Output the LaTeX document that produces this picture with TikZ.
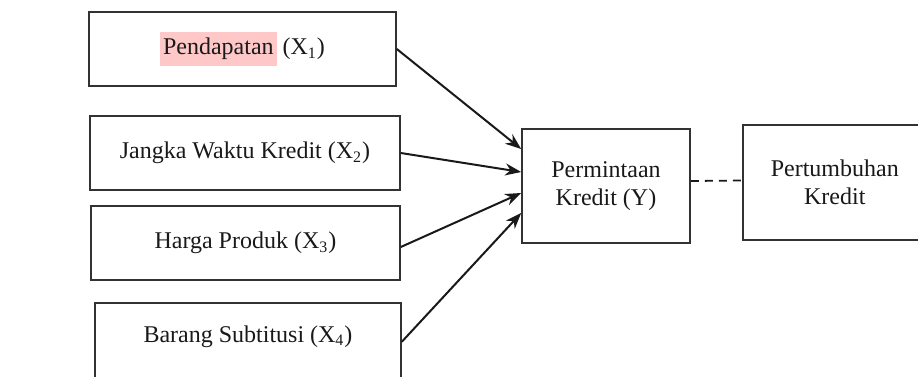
\documentclass[tikz,border=0pt]{standalone}
\usepackage{fontspec}
\setmainfont{Liberation Serif}
\usepackage{tikz}
\usetikzlibrary{arrows.meta}
\usetikzlibrary{positioning}
\definecolor{hlpink}{RGB}{255,200,200}
\definecolor{boxline}{RGB}{50,50,50}
\tikzstyle{var}=[draw=boxline, line width=0.8pt, align=center, inner sep=2pt,
                 font=\fontsize{12}{14}\selectfont, text=black!90]
\tikzstyle{infl}=[-{Stealth[length=8pt,width=6pt]}, line width=1pt, black!90]
\tikzstyle{rel}=[dashed, dash pattern=on 4pt off 3pt, line width=0.9pt, black!90]
\newcommand{\hl}[1]{{\setlength{\fboxsep}{1.5pt}\colorbox{hlpink}{\strut #1}}}

\begin{document}
\begin{tikzpicture}[x=0.5pt, y=-0.5pt]
    \useasboundingbox (0,0) rectangle (918,376);
    \node[var, minimum width=153.5pt, minimum height=37pt] (x1) at (242.5,49)
      {\hl{Pendapatan} (X\textsubscript{1})};
    \node[var, minimum width=155pt, minimum height=37pt] (x2) at (245,153)
      {Jangka Waktu Kredit (X\textsubscript{2})};
    \node[var, minimum width=154.5pt, minimum height=37pt] (x3) at (245.5,243)
      {Harga Produk (X\textsubscript{3})};
    \node[var, minimum width=153pt, minimum height=39pt, anchor=north] (x4) at (248,302)
      {\raisebox{8pt}{Barang Subtitusi (X\textsubscript{4})}};
    \node[var, minimum width=84pt, minimum height=57pt] (y) at (606,186)
      {Permintaan\\Kredit (Y)};
    \node[var, minimum width=92pt, minimum height=57.5pt, anchor=west] (pk) at (742,182.5)
      {\raisebox{3pt}{\parbox{80pt}{\centering Pertumbuhan\\Kredit}}};
    \coordinate[above=18.5pt of y.west] (in1);
    \coordinate[above=7pt of y.west] (in2);
    \coordinate[below=3.5pt of y.west] (in3);
    \coordinate[below=13.5pt of y.west] (in4);
    \draw[infl] (x1.east) -- (in1);
    \draw[infl] (x2.east) -- (in2);
    \draw[infl] ([yshift=-2pt]x3.east) -- (in3);
    \draw[infl] (x4.east) -- (in4);
    \draw[rel] ([yshift=2.5pt]y.east) -- ([yshift=1pt]pk.west);
\end{tikzpicture}
\end{document}
